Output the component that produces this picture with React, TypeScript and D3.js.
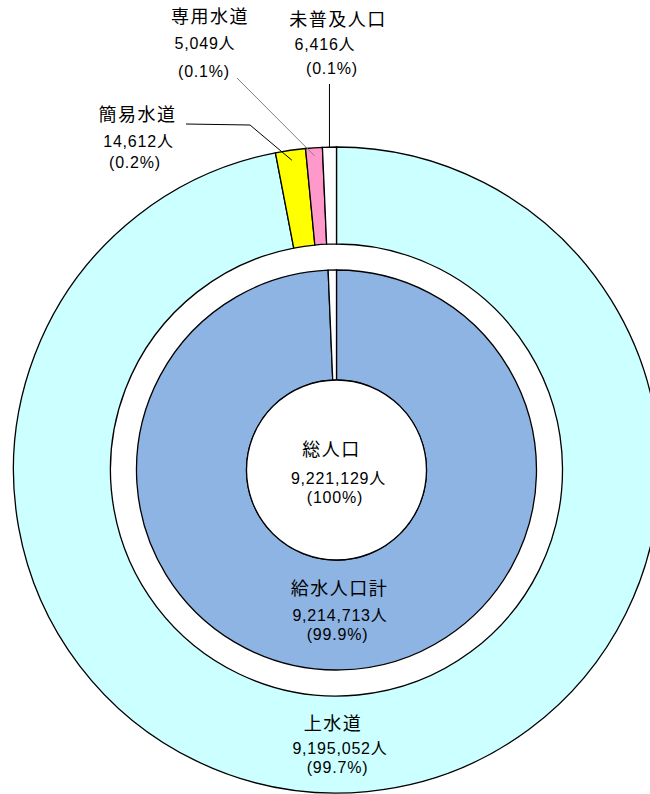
import React from "react";
import * as d3 from "d3";

// ---- data ----
const totalLabel = "総人口";
const totalPopulation = 9221129;
const totalPercent = "100%";

const innerCategories = ["給水人口計", "未普及人口"];
const innerPopulation = [9214713, 6416];
const innerPercent = ["99.9%", "0.1%"];
// slice sizes as drawn (small slices are enlarged for visibility in the original)
const innerDisplayWeights = [357.6, 2.4];
const innerColors = ["#8EB4E3", "#FFFFFF"];

const outerCategories = ["上水道", "簡易水道", "専用水道", "未普及人口"];
const outerPopulation = [9195052, 14612, 5049, 6416];
const outerPercent = ["99.7%", "0.2%", "0.1%", "0.1%"];
const outerDisplayWeights = [349.1, 5.4, 3.0, 2.5];
const outerColors = ["#CCFFFF", "#FFFF00", "#FF99CC", "#FFFFFF"];

const W = 650;
const H = 794;
const cx = 336.5;
const cy = 470;
const R_OUT = 323;
const R_OUT_IN = 226;
const R_IN = 200;
const R_HOLE = 90;

const FONT = "'Noto Sans CJK JP', 'Noto Sans', sans-serif";
const NUM_FONT = "'Liberation Sans', 'Noto Sans CJK JP', sans-serif";
const fmt = d3.format(",");

type Item = { name: string; pop: number; pct: string; w: number; color: string };

const inner: Item[] = innerCategories.map((n, i) => ({
  name: n,
  pop: innerPopulation[i],
  pct: innerPercent[i],
  w: innerDisplayWeights[i],
  color: innerColors[i],
}));
const outer: Item[] = outerCategories.map((n, i) => ({
  name: n,
  pop: outerPopulation[i],
  pct: outerPercent[i],
  w: outerDisplayWeights[i],
  color: outerColors[i],
}));

const pie = d3
  .pie<Item>()
  .sort(null)
  .value((d) => d.w)
  .startAngle(0)
  .endAngle(2 * Math.PI);

const innerArcs = pie(inner);
const outerArcs = pie(outer);

const innerArc = d3.arc<d3.PieArcDatum<Item>>().innerRadius(R_HOLE).outerRadius(R_IN);
const outerArc = d3.arc<d3.PieArcDatum<Item>>().innerRadius(R_OUT_IN).outerRadius(R_OUT);

const polar = (a: number, r: number): [number, number] => [cx + r * Math.sin(a), cy - r * Math.cos(a)];
const mid = (d: d3.PieArcDatum<Item>) => (d.startAngle + d.endAngle) / 2;

function Label({
  x,
  lines,
}: {
  x: number[];
  lines: { t: string; y: number; cjk?: boolean }[];
}) {
  return (
    <g>
      {lines.map((l, i) => (
        <text
          key={i}
          x={x[i]}
          y={l.y}
          textAnchor="middle"
          fontFamily={l.cjk ? FONT : NUM_FONT}
          fontSize={l.cjk ? 18 : 16}
          letterSpacing={l.cjk ? 1.5 : 0.8}
          fill="#000"
        >
          {l.t}
        </text>
      ))}
    </g>
  );
}

export default function App() {
  const [kan, sen, mi] = [outerArcs[1], outerArcs[2], outerArcs[3]];
  const kanStart = polar(mid(kan), 313);
  const senStart = polar(mid(sen), 315);
  const miStart = polar(mid(mi), R_OUT);

  return (
    <svg
      width={W}
      height={H}
      viewBox={`0 0 ${W} ${H}`}
      style={{ position: "absolute", left: 0, top: 0, background: "#fff" }}
    >
      <g transform={`translate(${cx},${cy})`}>
        {outerArcs.map((d, i) => (
          <path key={"o" + i} d={outerArc(d) || ""} fill={d.data.color} stroke="#000" strokeWidth={1.3} />
        ))}
        {innerArcs.map((d, i) => (
          <path key={"i" + i} d={innerArc(d) || ""} fill={d.data.color} stroke="#000" strokeWidth={1.3} />
        ))}
        <circle r={R_HOLE} fill="#fff" stroke="#000" strokeWidth={1.3} />
      </g>

      {/* leader lines */}
      <polyline
        points={`${kanStart[0]},${kanStart[1]} 250,125 186,124`}
        fill="none"
        stroke="#000"
        strokeWidth={1}
      />
      <line x1={senStart[0]} y1={senStart[1]} x2={237} y2={78} stroke="#808080" strokeWidth={1} />
      <line x1={miStart[0]} y1={miStart[1]} x2={miStart[0]} y2={84} stroke="#000" strokeWidth={1} />

      {/* outer small slice labels */}
      <Label
        x={[210, 205, 204]}
        lines={[
          { t: outer[2].name, y: 23, cjk: true },
          { t: fmt(outer[2].pop) + "人", y: 49 },
          { t: "(" + outer[2].pct + ")", y: 77 },
        ]}
      />
      <Label
        x={[338, 325, 332]}
        lines={[
          { t: outer[3].name, y: 26, cjk: true },
          { t: fmt(outer[3].pop) + "人", y: 50 },
          { t: "(" + outer[3].pct + ")", y: 74 },
        ]}
      />
      <Label
        x={[137.5, 138.5, 135]}
        lines={[
          { t: outer[1].name, y: 121, cjk: true },
          { t: fmt(outer[1].pop) + "人", y: 147 },
          { t: "(" + outer[1].pct + ")", y: 168 },
        ]}
      />

      {/* center */}
      <Label
        x={[331.5, 338.5, 335]}
        lines={[
          { t: totalLabel, y: 456, cjk: true },
          { t: fmt(totalPopulation) + "人", y: 484 },
          { t: "(" + totalPercent + ")", y: 503 },
        ]}
      />
      {/* inner ring */}
      <Label
        x={[339.5, 340, 337.5]}
        lines={[
          { t: inner[0].name, y: 595, cjk: true },
          { t: fmt(inner[0].pop) + "人", y: 621 },
          { t: "(" + inner[0].pct + ")", y: 640 },
        ]}
      />
      {/* outer ring */}
      <Label
        x={[333, 340, 337.5]}
        lines={[
          { t: outer[0].name, y: 730, cjk: true },
          { t: fmt(outer[0].pop) + "人", y: 754 },
          { t: "(" + outer[0].pct + ")", y: 773 },
        ]}
      />
    </svg>
  );
}
